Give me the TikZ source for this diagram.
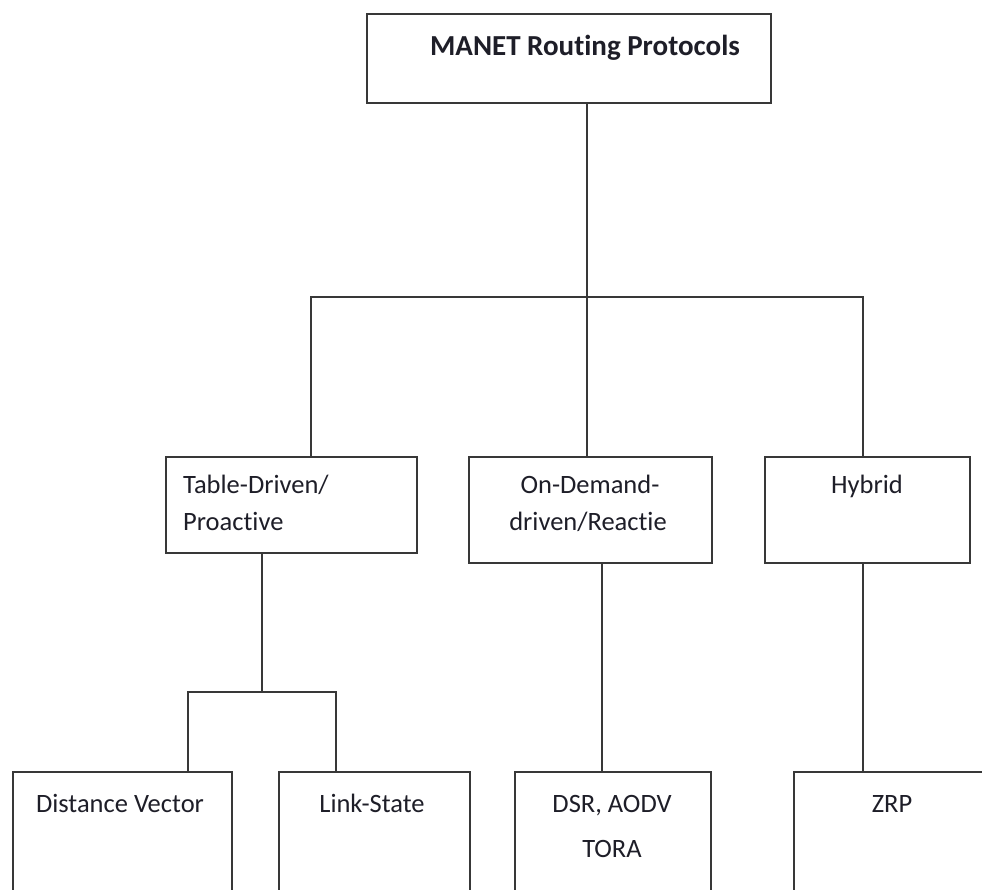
\documentclass[tikz,border=0pt]{standalone}
\usepackage{fontspec}
\setmainfont[Ligatures={NoCommon,NoRare}]{Carlito}
\definecolor{linec}{HTML}{383838}
\definecolor{textc}{HTML}{1E1E28}
\begin{document}
\begin{tikzpicture}[x=1pt,y=-1pt,
  box/.style={draw=linec, line width=1.8pt, rectangle, inner sep=0pt, anchor=north west, fill=white},
  conn/.style={draw=linec, line width=1.8pt},
  lbl/.style={text=textc, inner sep=0pt, font=\fontsize{26.5}{32}\selectfont},
  ttl/.style={text=textc, inner sep=0pt, font=\fontsize{29}{35}\selectfont\bfseries}]
\useasboundingbox (0,0) rectangle (982,889);
\clip (0,0) rectangle (982,889);
% coordinates of junctions
\coordinate (j1) at (587,297);
\coordinate (jl) at (311,297);
\coordinate (jr) at (863,297);
\coordinate (j2) at (262,692);
\coordinate (j2l) at (188,692);
\coordinate (j2r) at (336,692);
\coordinate (j3) at (602,700);
% boxes
\node[box, minimum width=404pt, minimum height=89pt] (top) at (366,13) {};
\node[box, minimum width=251pt, minimum height=96pt] (tbl) at (165,456) {};
\node[box, minimum width=243pt, minimum height=106pt] (ond) at (468,456) {};
\node[box, minimum width=205pt, minimum height=106pt] (hyb) at (764,456) {};
\node[box, minimum width=219pt, minimum height=160pt] (dv) at (12,771) {};
\node[box, minimum width=191pt, minimum height=160pt] (ls) at (278,771) {};
\node[box, minimum width=196pt, minimum height=160pt] (dsr) at (514,771) {};
\node[box, minimum width=260pt, minimum height=160pt] (zrp) at (793,771) {};
% connectors
\draw[conn] (top.south -| j1) -- (j1);
\draw[conn] (tbl.north -| jl) -- (jl) -- (jr) -- (hyb.north -| jr);
\draw[conn] (j1) -- (ond.north -| j1);
\draw[conn] (tbl.south -| j2) -- (j2);
\draw[conn] (dv.north -| j2l) -- (j2l) -- (j2r) -- (ls.north -| j2r);
\draw[conn] (ond.south -| j3) -- (dsr.north -| j3);
\draw[conn] (hyb.south -| jr) -- (zrp.north -| jr);
% texts
\node[ttl, anchor=base] (ttop) at (585,55) {MANET Routing Protocols};
\node[lbl, anchor=base west] (ttbl1) at (183,493) {Table-Driven/};
\node[lbl, anchor=base west] (ttbl2) at (183,530) {Proactive};
\node[lbl, anchor=base] (tond1) at (590,493) {On-Demand-};
\node[lbl, anchor=base] (tond2) at (588,530) {driven/Reactie};
\node[lbl, anchor=base] (thyb) at (867,493) {Hybrid};
\node[lbl, anchor=base] (tdv) at (120,812) {Distance Vector};
\node[lbl, anchor=base] (tls) at (372,812) {Link-State};
\node[lbl, anchor=base] (tdsr1) at (612,812) {DSR, AODV};
\node[lbl, anchor=base] (tdsr2) at (612,857) {TORA};
\node[lbl, anchor=base] (tzrp) at (892,812) {ZRP};
\end{tikzpicture}
\end{document}
